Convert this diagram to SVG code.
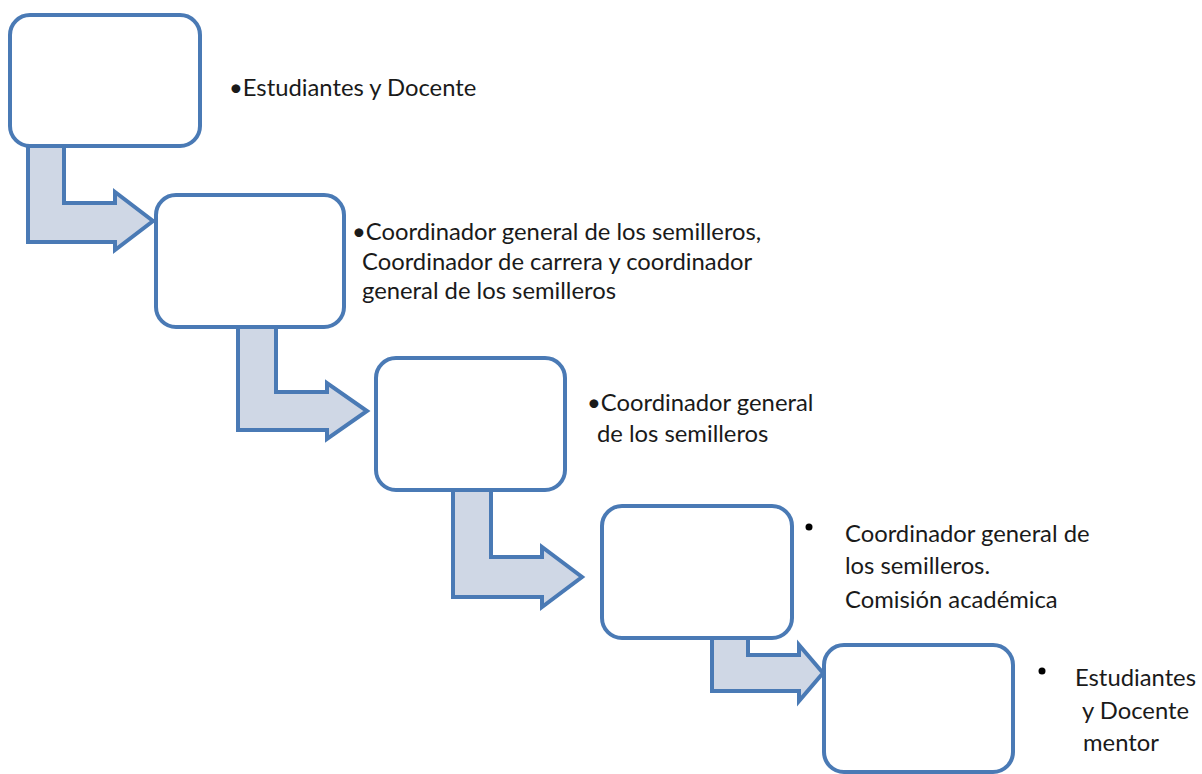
<svg xmlns="http://www.w3.org/2000/svg" width="1202" height="774" viewBox="0 0 1202 774">
<style>
.box{fill:#fff;stroke:#4a7ab5;stroke-width:4}
.arr{fill:#cfd7e5;stroke:#4a7ab5;stroke-width:4;stroke-linejoin:miter}
text{font-family:Lato,"Open Sans",sans-serif;font-size:23.8px;fill:#1a1a1a}
</style>
<rect width="1202" height="774" fill="#fff"/>
<g id="connectors">
<polygon class="arr" points="28,146 64,146 64,203 115,203 115,192 153,221 115,250 115,242 28,242"/>
<polygon class="arr" points="238,327 276,327 276,392 327,392 327,383 367,411 327,439 327,430 238,430"/>
<polygon class="arr" points="453,490 491,490 491,557 542,557 542,547 582,577 542,607 542,597 453,597"/>
<polygon class="arr" points="712,638 748,638 748,655 799,655 799,645 823,673 799,701 799,691 712,691"/>
</g>
<g id="node1">
<rect class="box" x="10" y="15" width="190" height="131" rx="20"/>
<text x="229" y="96">•Estudiantes y Docente</text>
</g>
<g id="node2">
<rect class="box" x="156" y="195" width="188" height="132" rx="20"/>
<text x="352" y="240">•Coordinador general de los semilleros,</text>
<text x="362" y="270">Coordinador de carrera y coordinador</text>
<text x="362" y="299">general de los semilleros</text>
</g>
<g id="node3">
<rect class="box" x="376" y="358" width="189" height="132" rx="20"/>
<text x="587" y="411">•Coordinador general</text>
<text x="597" y="442">de los semilleros</text>
</g>
<g id="node4">
<rect class="box" x="602" y="506" width="190" height="132" rx="20"/>
<circle cx="809" cy="527" r="3.5" fill="#000"/>
<text x="845" y="542">Coordinador general de</text>
<text x="845" y="574">los semilleros.</text>
<text x="845" y="608">Comisión académica</text>
</g>
<g id="node5">
<rect class="box" x="824" y="645" width="189" height="127" rx="20"/>
<circle cx="1042" cy="671" r="3.5" fill="#000"/>
<text x="1075" y="686">Estudiantes</text>
<text x="1082" y="719">y Docente</text>
<text x="1083" y="751">mentor</text>
</g>
</svg>
